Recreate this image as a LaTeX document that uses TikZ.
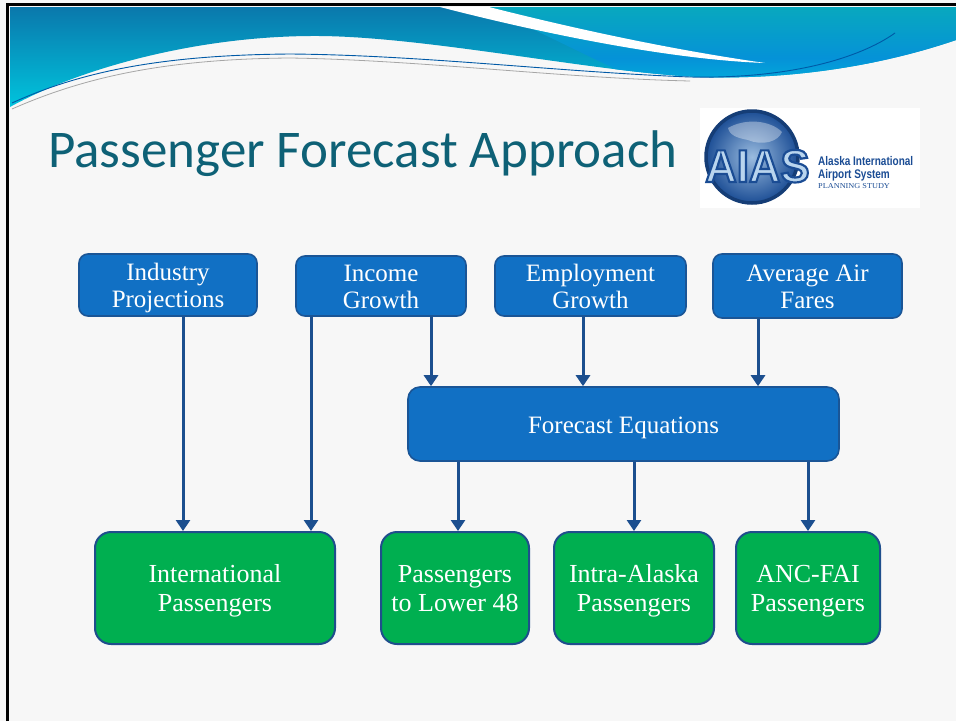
\documentclass[tikz,border=0pt]{standalone}
\usepackage{fontspec}
\usepackage{graphicx}
\setmainfont{Liberation Serif}
\newfontfamily\titlefont{Carlito}
\newfontfamily\logosans{Liberation Sans}
\usetikzlibrary{arrows.meta,calc}

\definecolor{pagebg}{HTML}{F7F7F7}
\definecolor{boxblue}{HTML}{1170C4}
\definecolor{boxedge}{HTML}{1A5596}
\definecolor{boxgreen}{HTML}{00AF50}
\definecolor{greenedge}{HTML}{1F4E8C}
\definecolor{arrowblue}{HTML}{1C4F8F}
\definecolor{titleteal}{HTML}{0E6176}
\definecolor{wavetop}{HTML}{0A78AC}
\definecolor{wavelow}{HTML}{00C6DE}
\definecolor{waveteal}{HTML}{08A8BE}
\definecolor{waveblue}{HTML}{0592D8}
\definecolor{logoblue}{HTML}{1A4C94}
\definecolor{logolight}{HTML}{B9D5EE}
\definecolor{globemid}{HTML}{6F9FD2}

% struts that fix the first and last baselines of the box labels
\newcommand\inTop{\rule{0pt}{25pt}}
\newcommand\inBot{\rule[-8pt]{0pt}{8pt}}
\newcommand\outTop{\rule{0pt}{26.5pt}}
\newcommand\outBot{\rule[-9pt]{0pt}{9pt}}
% outlined lettering: fill in the current colour, stroke in logo blue
\newcommand\outlined[1]{\special{pdf:literal direct q 2 Tr 2.2 w 0.102 0.298 0.580 RG}#1\special{pdf:literal direct Q}}

\begin{document}
\begin{tikzpicture}[x=1pt,y=-1pt,
  inbox/.style={draw=boxedge, fill=boxblue, line width=1.6pt, rounded corners=9pt,
    text=white, align=center, inner sep=0pt,
    font=\fontsize{25}{27}\selectfont},
  outbox/.style={draw=greenedge, fill=boxgreen, line width=2pt, rounded corners=16pt,
    text=white, align=center, inner sep=0pt, minimum height=112pt,
    font=\fontsize{26}{29}\selectfont},
  flow/.style={draw=arrowblue, line width=3pt, -{Triangle[width=14pt,length=11pt]}}]

\useasboundingbox (0,0) rectangle (956,721);
\fill[pagebg] (0,0) rectangle (956,721);

% header wave
\begin{scope}
  \clip (10,7) -- (956,7) -- (956,40)
    .. controls (880,66) and (790,80) .. (700,77)
    .. controls (600,73) and (430,37) .. (320,36)
    .. controls (200,35) and (80,68) .. (10,107) -- cycle;
  \shade[top color=wavetop, bottom color=wavelow] (10,7) rectangle (956,110);
  \shade[top color=waveteal, bottom color=wavelow, middle color=waveblue]
    (487,7) -- (956,7) -- (956,110) -- (700,110) -- cycle;
  % white sweep across the band
  \fill[white] (440,7) -- (489,7)
    .. controls (560,25) and (660,48) .. (765,63)
    .. controls (680,60) and (560,38) .. cycle;
\end{scope}
\draw[teal!70!blue, line width=0.9pt]
  (12,103) .. controls (80,72) and (160,55) .. (290,54)
  .. controls (420,55) and (560,72) .. (690,77)
  .. controls (790,79) and (860,58) .. (895,33);
\draw[gray!70, line width=0.8pt]
  (12,109) .. controls (80,79) and (160,59) .. (290,58)
  .. controls (420,60) and (560,78) .. (690,81);

% frame
\draw[black, line width=3.5pt] (7.5,721) -- (7.5,4.5) -- (956,4.5);

% title
\node[anchor=base west, inner sep=0pt, text=titleteal,
  font=\titlefont\fontsize{53}{60}\selectfont] (title) at (48,167) {Passenger Forecast Approach};

% logo
\fill[white] (700,108) rectangle (920,208);
\shade[inner color=globemid!70!white, outer color=logoblue] (752,157) circle (47pt);
\draw[logoblue!80!black, line width=3.5pt] (752,157) circle (46pt);
\fill[white, opacity=0.35] (728,128) .. controls (745,118) and (770,120) .. (782,132)
  .. controls (778,142) and (762,146) .. (748,140) .. controls (738,138) and (730,136) .. cycle;
\node[anchor=base west, inner sep=0pt, text=logolight,
  font=\logosans\bfseries\fontsize{46}{46}\selectfont] (logoword) at (705,182) {\scalebox{0.95}[1]{\outlined{AIAS}}};
\node[anchor=base west, inner sep=0pt, text=logoblue,
  font=\logosans\bfseries\fontsize{12.5}{12.5}\selectfont] (logo1) at (818,165) {\scalebox{0.8}[1]{Alaska International}};
\node[anchor=base west, inner sep=0pt, text=logoblue,
  font=\logosans\bfseries\fontsize{12.5}{12.5}\selectfont] (logo2) at (818,178) {\scalebox{0.8}[1]{Airport System}};
\node[anchor=base west, inner sep=0pt, text=logoblue,
  font=\fontsize{7.5}{7.5}\selectfont] (logo3) at (818,188) {\scalebox{1.1}[1]{PLANNING STUDY}};

% input boxes
\node[inbox, minimum width=178pt, minimum height=62pt] (ind) at (168,285) {\inTop Industry\\Projections\inBot};
\node[inbox, minimum width=170pt, minimum height=60pt] (inc) at (381,286) {\inTop Income\\Growth\inBot};
\node[inbox, minimum width=191pt, minimum height=60pt] (emp) at (590.5,286) {\inTop Employment\\Growth\inBot};
\node[inbox, minimum width=189pt, minimum height=64pt] (avg) at (807.5,286) {\inTop Average Air\\Fares\inBot};

% equation box
\node[inbox, minimum width=431pt, minimum height=74pt, rounded corners=12pt] (feq) at (623.5,424) {\rule{0pt}{24pt}Forecast Equations};

% output boxes
\node[outbox, minimum width=240pt] (intl) at (215,588) {\outTop International\\Passengers\outBot};
\node[outbox, minimum width=148pt] (low) at (455,588) {\outTop Passengers\\to Lower 48\outBot};
\node[outbox, minimum width=160pt] (intra) at (634,588) {\outTop Intra-Alaska\\Passengers\outBot};
\node[outbox, minimum width=144pt] (anc) at (808,588) {\outTop ANC-FAI\\Passengers\outBot};

% connectors
\draw[flow] (ind.south -| 183,0) -- (intl.north -| 183,0);
\draw[flow] (inc.south -| 311,0) -- (intl.north -| 311,0);
\draw[flow] (inc.south -| 431,0) -- (feq.north -| 431,0);
\draw[flow] (emp.south -| 583,0) -- (feq.north -| 583,0);
\draw[flow] (avg.south -| 758,0) -- (feq.north -| 758,0);
\draw[flow] (feq.south -| 458,0) -- (low.north -| 458,0);
\draw[flow] (feq.south -| 634,0) -- (intra.north -| 634,0);
\draw[flow] (feq.south -| 808,0) -- (anc.north -| 808,0);
\end{tikzpicture}
\end{document}
